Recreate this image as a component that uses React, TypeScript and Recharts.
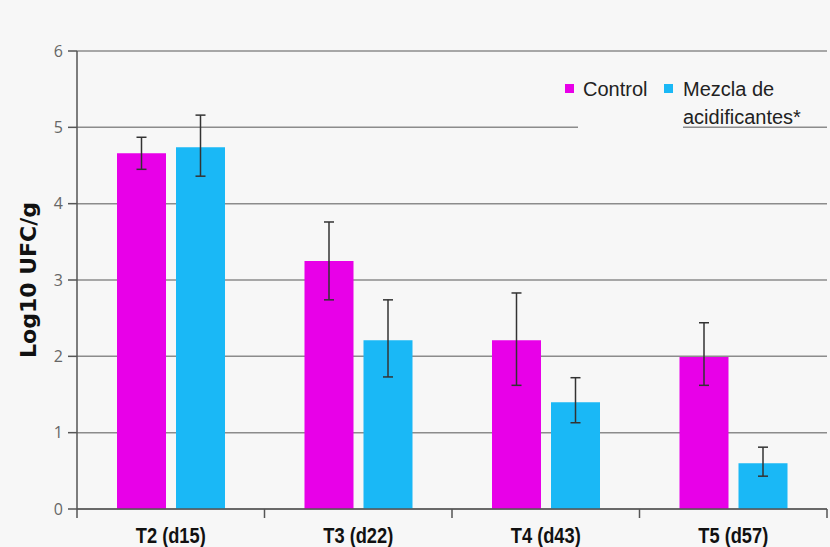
import React from "react";
import { BarChart, Bar, XAxis, YAxis, CartesianGrid, ErrorBar } from "recharts";

const categories = ["T2 (d15)", "T3 (d22)", "T4 (d43)", "T5 (d57)"];
const control = [4.66, 3.25, 2.21, 1.99];
const controlErrLow = [0.21, 0.51, 0.59, 0.37];
const controlErrHigh = [0.21, 0.51, 0.62, 0.45];
const mezcla = [4.74, 2.21, 1.4, 0.6];
const mezclaErrLow = [0.38, 0.48, 0.27, 0.17];
const mezclaErrHigh = [0.42, 0.53, 0.32, 0.21];
const yTicks = [0, 1, 2, 3, 4, 5, 6];

const MAGENTA = "#e800e8";
const BLUE = "#1ab8f6";
const BG = "#f7f7f7";
const AXIS = "#555";

const data = categories.map((cat, i) => ({
  cat,
  control: control[i],
  controlErr: [controlErrLow[i], controlErrHigh[i]],
  mezcla: mezcla[i],
  mezclaErr: [mezclaErrLow[i], mezclaErrHigh[i]],
}));

// category label plus tick marks on the category boundaries
const CatTick = (props: any) => {
  const { x, y, payload, index } = props;
  const half = payload?.offset ?? 0;
  return (
    <g>
      <line x1={x - half} x2={x - half} y1={y} y2={y + 9} stroke={AXIS} strokeWidth={1.5} />
      {index === categories.length - 1 && (
        <line x1={x + half} x2={x + half} y1={y} y2={y + 9} stroke={AXIS} strokeWidth={1.5} />
      )}
      <text
        transform={`translate(${x},${y + 34}) scale(0.83,1)`}
        textAnchor="middle"
        fill="#111"
        fontSize={22}
        fontWeight="bold"
        fontFamily="'Liberation Sans', Arial, sans-serif"
      >
        {payload.value}
      </text>
    </g>
  );
};

const legendText: React.CSSProperties = {
  position: "absolute",
  whiteSpace: "nowrap",
  lineHeight: "28px",
  fontFamily: "'Liberation Sans', Arial, sans-serif",
  fontSize: 20,
  color: "#222",
};

const LegendBox = () => (
  <div style={{ position: "absolute", left: 0, top: 0 }}>
    <div style={{ position: "absolute", left: 578, top: 70, width: 105, height: 62, background: BG }} />
    <div style={{ position: "absolute", left: 565, top: 84, width: 9, height: 9, background: MAGENTA }} />
    <div style={{ ...legendText, left: 583, top: 75 }}>Control</div>
    <div style={{ position: "absolute", left: 664, top: 84, width: 9, height: 9, background: BLUE }} />
    <div style={{ ...legendText, left: 683, top: 75 }}>
      Mezcla de
      <br />
      acidificantes*
    </div>
  </div>
);

export default function App() {
  return (
    <div style={{ position: "absolute", left: 0, top: 0, width: 830, height: 547, background: BG }}>
      <BarChart
        width={830}
        height={547}
        data={data}
        margin={{ top: 51, right: 3, left: 0, bottom: 0 }}
        barSize={49}
        barGap={10}
      >
        <CartesianGrid vertical={false} stroke="#8c8c8c" strokeWidth={1.5} />
        <XAxis
          dataKey="cat"
          height={38}
          stroke={AXIS}
          strokeWidth={1.5}
          tickLine={false}
          tickSize={0}
          tickMargin={0}
          tick={<CatTick />}
        />
        <YAxis
          width={77}
          domain={[0, 6]}
          ticks={yTicks}
          tickSize={9}
          tickMargin={5}
          stroke={AXIS}
          strokeWidth={1.5}
          tick={{ fill: "#666", fontSize: 16, fontFamily: "'Open Sans', sans-serif" }}
          label={{
            value: "Log10 UFC/g",
            angle: -90,
            position: "insideLeft",
            offset: 28,
            fill: "#111",
            fontSize: 22,
            fontWeight: "bold",
            fontFamily: "'DejaVu Sans', sans-serif",
            style: { textAnchor: "middle" },
          }}
        />
        <Bar dataKey="control" fill={MAGENTA} isAnimationActive={false}>
          <ErrorBar dataKey="controlErr" width={5} stroke="#333" strokeWidth={1.5} />
        </Bar>
        <Bar dataKey="mezcla" fill={BLUE} isAnimationActive={false}>
          <ErrorBar dataKey="mezclaErr" width={5} stroke="#333" strokeWidth={1.5} />
        </Bar>
      </BarChart>
      <LegendBox />
    </div>
  );
}
